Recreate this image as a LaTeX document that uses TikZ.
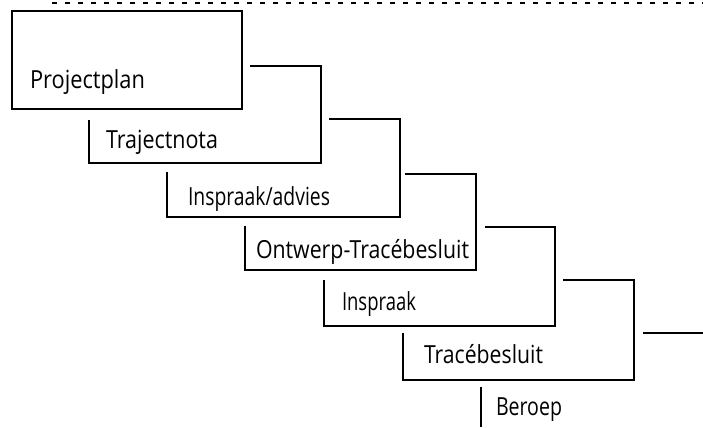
\documentclass[tikz,border=0pt]{standalone}
\usepackage{fontspec}
\setmainfont{Open Sans}
\usepackage{graphicx}
\tikzset{
  boxline/.style={draw=black, line width=1.3bp, line join=miter},
  dashline/.style={draw=black, line width=1.3bp, dash pattern=on 5bp off 8bp},
  lab/.style={inner sep=0pt, outer sep=0pt, anchor=base west, font=\fontsize{25}{25}\selectfont}
}
\newcommand{\fitlab}[2]{\resizebox{#1bp}{\height}{#2}}
\begin{document}
\begin{tikzpicture}[x=1bp, y=-1bp]
\useasboundingbox (0,0) rectangle (703,427);
% dashed top line
\coordinate (d1) at (52,3);
\coordinate (d2) at (703,3);
\draw[dashline] (d1) -- (d2);
% box 1
\draw[boxline] (12,11) rectangle (242,109);
% box 2
\draw[boxline] (250,66) -- (321,66) -- (321,163) -- (89,163) -- (89,120);
% box 3
\draw[boxline] (329,119) -- (400,119) -- (400,217) -- (167,217) -- (167,172);
% box 4
\draw[boxline] (405,174) -- (476,174) -- (476,270) -- (245,270) -- (245,226);
% box 5
\draw[boxline] (485,227) -- (555,227) -- (555,326) -- (324,326) -- (324,280);
% box 6
\draw[boxline] (563,280) -- (634,280) -- (634,380) -- (403,380) -- (403,333);
% box 7
\draw[boxline] (643,333) -- (703,333);
\draw[boxline] (481,387) -- (481,427);
% labels
\node[lab] (t1) at (30,88) {\fitlab{115}{Projectplan}};
\node[lab] (t2) at (106,148) {\fitlab{112}{Trajectnota}};
\node[lab] (t3) at (188,205) {\fitlab{142}{Inspraak/advies}};
\node[lab] (t4) at (256,258) {\fitlab{213}{Ontwerp-Tracébesluit}};
\node[lab] (t5) at (342,310) {\fitlab{74}{Inspraak}};
\node[lab] (t6) at (424,363) {\fitlab{119}{Tracébesluit}};
\node[lab] (t7) at (496,415) {\fitlab{66}{Beroep}};
\end{tikzpicture}
\end{document}
